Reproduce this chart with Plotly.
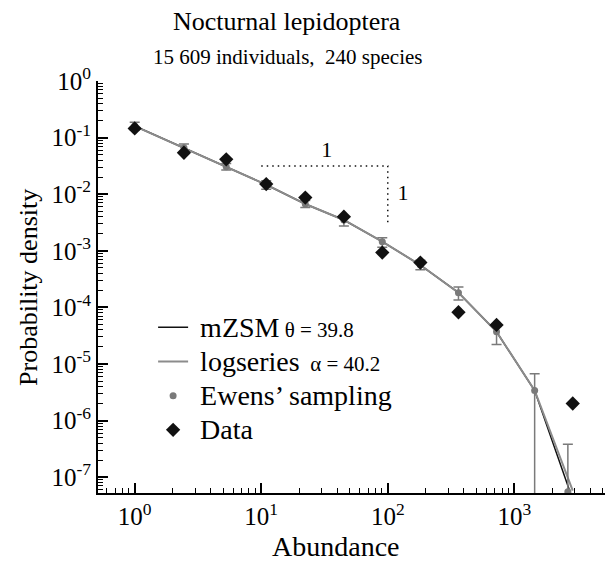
import plotly.graph_objects as go

# ---- data ----
line_x = [1, 2.45, 5.29, 10.95, 22.3, 45, 90.5, 181, 362, 724, 1448, 2896]
mzsm_y = [0.16, 0.066, 0.0306, 0.0147, 0.0067, 0.0035, 0.00145, 0.00056, 1.82e-4, 3.7e-5, 3.4e-6, 4.0e-8]
logseries_y = [0.16, 0.066, 0.0306, 0.0147, 0.0067, 0.0035, 0.00145, 0.00056, 1.82e-4, 3.7e-5, 3.4e-6, 5.8e-8]

ewens_x = [1, 2.45, 5.29, 10.95, 22.3, 45, 90.5, 181, 362, 724, 1448, 2650]
ewens_y = [0.16, 0.066, 0.0306, 0.0147, 0.0067, 0.0035, 0.00145, 0.00056, 1.82e-4, 3.7e-5, 3.4e-6, 5.5e-8]
ewens_hi = [0.186, 0.077, 0.035, 0.0173, 0.0077, 0.0041, 0.0017, 0.00068, 2.3e-4, 4.6e-5, 6.7e-6, 3.8e-7]
ewens_lo = [0.138, 0.057, 0.0268, 0.0122, 0.0058, 0.00275, 0.00115, 0.00046, 1.35e-4, 2.2e-5, 0, 0]

data_x = [1, 2.45, 5.29, 10.95, 22.3, 45, 90.5, 181, 362, 724, 2896]
data_y = [0.145, 0.054, 0.0413, 0.0151, 0.0087, 0.0040, 0.00093, 0.00062, 8.2e-5, 4.9e-5, 2.0e-6]

slope_x = [10, 100, 100]
slope_y = [0.0316, 0.0316, 0.00316]
slope_label_x = [33, 132]
slope_label_y = [0.056, 0.0098]
slope_labels = ["1", "1"]

x_tick_vals = [1, 10, 100, 1000]
x_tick_text = ["10<sup>0</sup>", "10<sup>1</sup>", "10<sup>2</sup>", "10<sup>3</sup>"]
y_tick_vals = [1, 0.1, 0.01, 1e-3, 1e-4, 1e-5, 1e-6, 1e-7]
y_tick_text = ["10<sup>0</sup>", "10<sup>-1</sup>", "10<sup>-2</sup>", "10<sup>-3</sup>",
               "10<sup>-4</sup>", "10<sup>-5</sup>", "10<sup>-6</sup>", "10<sup>-7</sup>"]

FONT = "'Liberation Serif', 'Times New Roman', Tinos, 'DejaVu Serif', serif"

x_minor = [m * 10 ** e for e in range(-1, 4) for m in range(2, 10)]
y_minor = [m * 10 ** e for e in range(-8, 0) for m in range(2, 10)]

err_plus = [h - y for h, y in zip(ewens_hi, ewens_y)]
err_minus = [y - l for l, y in zip(ewens_lo, ewens_y)]


def big(s):
    return "<span style='font-size:28px'>\u00a0" + s + "</span>"


fig = go.Figure()
fig.add_trace(go.Scatter(x=line_x, y=mzsm_y, mode="lines",
                         name=big("mZSM") + "<span style='font-size:21px'> θ = 39.8</span>",
                         line=dict(color="#111111", width=1.5)))
fig.add_trace(go.Scatter(x=line_x, y=logseries_y, mode="lines",
                         name=big("logseries") + "<span style='font-size:21px'>  α = 40.2</span>",
                         line=dict(color="#8c8c8c", width=2)))
fig.add_trace(go.Scatter(x=ewens_x, y=ewens_y, mode="markers", name=big("Ewens’ sampling"),
                         marker=dict(color="#7a7a7a", size=7),
                         error_y=dict(type="data", array=err_plus, arrayminus=err_minus,
                                      color="#7a7a7a", thickness=1.5, width=5)))
fig.add_trace(go.Scatter(x=data_x, y=data_y, mode="markers", name=big("Data"),
                         marker=dict(color="#111111", symbol="diamond", size=11)))
fig.add_trace(go.Scatter(x=slope_x, y=slope_y, mode="lines", showlegend=False,
                         line=dict(color="#111111", width=1.5, dash="1.5px,4px")))
fig.add_trace(go.Scatter(x=slope_label_x, y=slope_label_y, mode="text", text=slope_labels,
                         showlegend=False, textfont=dict(family=FONT, size=22, color="black")))

axis_common = dict(type="log", showline=True, linecolor="black", linewidth=2,
                   ticks="inside", ticklen=10, tickwidth=1.5, tickcolor="black",
                   showgrid=False, zeroline=False, mirror=False, automargin=False,
                   tickfont=dict(family=FONT, size=25, color="black"))

fig.update_xaxes(range=[-0.29, 3.78], tickmode="array", tickvals=x_tick_vals, ticktext=x_tick_text,
                 minor=dict(ticks="inside", ticklen=5, tickwidth=1, tickcolor="black",
                            tickmode="array", tickvals=x_minor, showgrid=False),
                 **axis_common)
fig.update_yaxes(range=[-7.28, 0], tickmode="array", tickvals=y_tick_vals, ticktext=y_tick_text,
                 minor=dict(ticks="inside", ticklen=5, tickwidth=1, tickcolor="black",
                            tickmode="array", tickvals=y_minor, showgrid=False),
                 **axis_common)

annotations = [
    dict(text="Nocturnal lepidoptera", x=0.367, y=1.1456, xref="paper", yref="paper",
         showarrow=False, xanchor="center", yanchor="middle", font=dict(family=FONT, size=26, color="black")),
    dict(text="15 609 individuals,  240 species", x=0.367, y=1.058, xref="paper", yref="paper",
         showarrow=False, xanchor="center", yanchor="middle", font=dict(family=FONT, size=21, color="black")),
    dict(text="Abundance", x=0.462, y=-0.129, xref="paper", yref="paper",
         showarrow=False, xanchor="center", yanchor="middle", font=dict(family=FONT, size=28, color="black")),
    dict(text="Probability density", x=-0.136, y=0.5, xref="paper", yref="paper", textangle=-90,
         showarrow=False, xanchor="center", yanchor="middle", font=dict(family=FONT, size=26, color="black")),
]

# the page body adds an 8px offset; the figure is sized so the plot lands where the reference has it
fig.update_layout(
    width=605, height=561,
    margin=dict(l=90, r=0, t=73, b=76),
    paper_bgcolor="white", plot_bgcolor="white",
    font=dict(family=FONT, color="black"),
    annotations=annotations,
    legend=dict(x=0.107, y=0.456, xanchor="left", yanchor="top", bgcolor="rgba(0,0,0,0)",
                font=dict(family=FONT, size=24, color="black"), tracegroupgap=0),
)

fig.write_html("out.html")
